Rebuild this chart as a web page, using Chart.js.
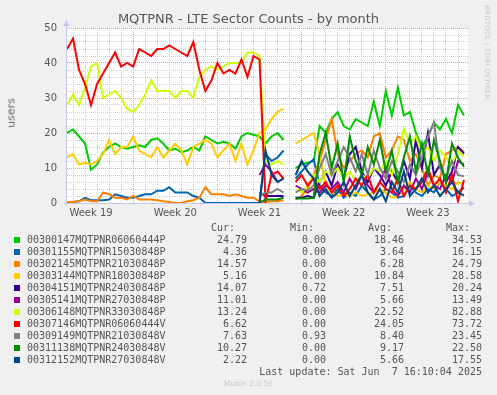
<!DOCTYPE html>
<html>
<head>
<meta charset="utf-8">
<script src="https://cdn.jsdelivr.net/npm/chart.js@4.4.1/dist/chart.umd.min.js"></script>
<style>
  html, body { margin: 0; padding: 0; background: #f0f0f0; }
  #wrap { position: relative; width: 497px; height: 395px; overflow: hidden; background: #f0f0f0; }
  #chart { position: absolute; left: 0; top: 0; }
  .txt { position: absolute; white-space: pre; color: #555; }
  #title { left: 0; width: 497px; top: 11px; text-align: center; font: 13px "DejaVu Sans"; line-height: 16px; }
  #ylab { left: 11px; top: 113px; font: 11px "DejaVu Sans"; color: #666; transform: translate(-50%, -50%) rotate(-90deg); transform-origin: center; }
  #rrd { left: 483px; top: 5px; font: 7px "DejaVu Sans"; color: #c8c8c8; writing-mode: vertical-rl; letter-spacing: 0.2px; }
  .mono { font: 10px "DejaVu Sans Mono"; line-height: 12px; }
  .sq { position: absolute; width: 6px; height: 6px; }
  #munin { left: 0; width: 497px; top: 379px; text-align: center; font: 7.5px "DejaVu Sans"; color: #c8c8c8; }
</style>
</head>
<body>
<div id="wrap">
  <canvas id="chart" width="497" height="225"></canvas>
  <div id="title" class="txt">MQTPNR - LTE Sector Counts - by month</div>
  <div id="ylab" class="txt">users</div>
  <div id="rrd" class="txt">RRDTOOL / TOBI OETIKER</div>
  <div id="legend"></div>
  <div id="munin" class="txt">Munin 2.0.56</div>
</div>
<script>
// one sample every half day, day 0 = left edge of the graph
const STEP = 0.5;
const LATE_START = 32; // index where the later sectors begin

const names = [
  '00300147MQTPNR06060444P', '00301155MQTPNR15030848P', '00302145MQTPNR21030848P',
  '00303144MQTPNR18030848P', '00304151MQTPNR24030848P', '00305141MQTPNR27030848P',
  '00306148MQTPNR33030848P', '00307146MQTPNR06060444V', '00309149MQTPNR21030848V',
  '00311138MQTPNR24030848V', '00312152MQTPNR27030848V'
];
const colors = ['#00cc00', '#0066b3', '#ff8000', '#ffcc00', '#330099', '#990099',
                '#ccff00', '#ff0000', '#808080', '#008f00', '#00487d'];

const curVals = ['24.79', '4.36', '14.57', '5.16', '14.07', '11.01', '13.24', '6.62', '7.63', '10.27', '2.22'];
const minVals = ['0.00', '0.00', '0.00', '0.00', '0.72', '0.00', '0.00', '0.00', '0.93', '0.00', '0.00'];
const avgVals = ['18.46', '3.64', '6.28', '10.84', '7.51', '5.66', '22.52', '24.05', '8.40', '9.17', '5.66'];
const maxVals = ['34.53', '16.15', '24.79', '28.58', '20.24', '13.49', '82.88', '73.72', '23.45', '22.50', '17.55'];

// full-period sectors (start at index 0)
const s00300147 = [20,21,19,17,9.5,11,14.5,16,17,16,15.5,16,16.5,16,18,18.5,17,15,15.5,14.5,15,16,15,19,18,17,17.5,17,15.5,19,20,
  19.5,19,17,19,20,18,null,
  10,11,11.5,12,22,20,24,26,22,21,24,23,22,29,22,32,25,33,25,26,20,16,19,23,21,24,20,28,25];
const s00301155 = [0.3,0.3,0.5,1.5,0.8,0.8,0.8,1,2.5,2,1.5,1.5,2,2.5,2.5,3.5,3.5,4.5,3,3,3,2,1.5,0,0,0,0,0,0,0,0,0,0,
  14,12,13,15,null,
  7,9,11,12.5,5,3,2,4,1.5,3,2,5,3,1,2,4,3,1.5,2,5,3,2,4,3,6,4,2,3,4.4];
const s00302145 = [0.3,0.3,0.5,1,0.5,0.5,3,2.5,1.5,1.5,1,2,1,1,1,0.8,0.5,0.3,0,0,0.5,0.8,1.5,4.5,2.5,2.5,2.5,2,2.5,2,1.5,1.5,0.5,
  0.3,0.5,0.5,0.8,null,
  1,2,4,8,12,18,24,14,10,12,14,15,13,19,20,13,15,19,18,12,14,10,5,8,7,14,15,16,14.6];
const s00303144 = [13,14,11,11.5,11,12,14,18,14,16,16,19,15,14,13,16,13,15,17,15,11,16,17,18,17,13,15,17,12,17,11,
  15,20,21,24,26,27,null,
  17,18,19,20,14,5,3,2,2.5,2,3,2,2.5,3,4,3,1.5,2,4,6,4,3,5,4,6,5,4,6,5.2];
const s00306148 = [28,31,28,33,39,40,30,31,32,30,27,26,28,31,35,32,32,32,30,32,32,30,36,38,39,38,39,40,40,40,43,
  43,42,12,11,12,11,null,
  4,3,5,8,6,9,8,10,7,9,6,8,7,10,9,12,8,14,21,17,19,14,16,12,15,13,11,15,13.2];
const s00307146 = [44,47,38,34,28,34,37,40,43,39,40,39,44,43,42,44,44,45,44,43,42,46,38,32,35,40,37,38,37,41,36,
  42,41,0.5,8,9,7,null,
  6,8,5,7,4,6,3,5,2,4,7,5,8,3,6,4,3,7,2,5,4,6,10,5,7,3,8,0.5,6.6];

// later sectors (start at LATE_START)
const s00304151 = [3,2,2,2,2,null,
  1.5,1.5,2,1.5,6,9,5,11,7,14,16,9,6,10,8,5,9,6,12,7,18,10,20,8,11,6,9,16,14.1];
const s00305141 = [8,11,9,6,7,null,
  5,4,3,4,3,5,4,6,3,7,4,8,5,3,6,10,4,2,5,3,7,4,9,5,4,8,6,12,11];
const s00309149 = [2,3,3,4,3,null,
  3,4,3.5,5,10,14,8,12,16,13,9,14,8,15,10,7,12,9,6,11,8,13,19,23,10,7,12,8,7.6];
const s00311138 = [0,1,1,1,1.5,null,
  1.3,1.3,1.3,1.5,14,20,10,17,6,19,12,8,16,11,18,9,15,6,13,19,9,17,8,18,12,6,17,13,10.3];
const s00312152 = [0,15,8,6,7,null,
  8,12,9,7,2,4,1.5,3,6,2,5,8,3,1,4,0.5,6,3,9,2,4,7,3,5,2,4,6,3,2.2];

const seriesValues = [s00300147, s00301155, s00302145, s00303144, s00304151, s00305141,
                      s00306148, s00307146, s00309149, s00311138, s00312152];
const seriesStart = [0, 0, 0, 0, LATE_START, LATE_START, 0, 0, LATE_START, LATE_START, LATE_START];

const X_MAX = 33.33;
const WEEK_FIRST = 19;

const datasets = seriesValues.map((vals, k) => ({
  label: names[k],
  data: vals.map((v, i) => ({ x: (seriesStart[k] + i) * STEP, y: v })),
  borderColor: colors[k],
  borderWidth: 2,
  pointRadius: 0,
  tension: 0,
  spanGaps: false,
  order: names.length - k  // later series on top, like rrdtool
}));

const plotBg = {
  id: 'plotBg',
  beforeDraw(chart) {
    const { ctx, chartArea: a } = chart;
    ctx.save();
    ctx.fillStyle = '#ffffff';
    ctx.fillRect(a.left, a.top, a.right - a.left, a.bottom - a.top);
    ctx.restore();
  },
  afterDraw(chart) {
    // axes with arrows
    const { ctx, chartArea: a } = chart;
    ctx.save();
    ctx.strokeStyle = '#c4c8ec';
    ctx.fillStyle = '#c4c8ec';
    ctx.lineWidth = 1;
    ctx.beginPath();
    ctx.moveTo(a.left - 0.5, a.bottom + 3);
    ctx.lineTo(a.left - 0.5, a.top - 3);
    ctx.moveTo(a.left - 3, a.bottom + 0.5);
    ctx.lineTo(a.right + 2, a.bottom + 0.5);
    ctx.stroke();
    ctx.beginPath();
    ctx.moveTo(a.left - 0.5, a.top - 8);
    ctx.lineTo(a.left - 3.5, a.top - 2);
    ctx.lineTo(a.left + 2.5, a.top - 2);
    ctx.fill();
    ctx.beginPath();
    ctx.moveTo(a.right + 7, a.bottom + 0.5);
    ctx.lineTo(a.right + 1, a.bottom - 2.5);
    ctx.lineTo(a.right + 1, a.bottom + 3.5);
    ctx.fill();
    ctx.restore();
  }
};

Chart.defaults.font.family = 'DejaVu Sans';
Chart.defaults.color = '#555';

new Chart(document.getElementById('chart').getContext('2d'), {
  type: 'line',
  data: { datasets },
  plugins: [plotBg],
  options: {
    responsive: false,
    animation: false,
    devicePixelRatio: 1,
    layout: { padding: { top: 28, right: 29, left: 0, bottom: 0 } },
    plugins: { legend: { display: false }, tooltip: { enabled: false }, title: { display: false } },
    scales: {
      x: {
        type: 'linear',
        min: 0,
        max: X_MAX,
        afterBuildTicks(scale) {
          const t = [];
          for (let v = 0; v <= X_MAX; v += 0.5) t.push({ value: v });
          scale.ticks = t;
        },
        afterFit(scale) { scale.height = 22; },
        ticks: {
          autoSkip: false,
          maxRotation: 0,
          padding: 4,
          font: { size: 10 },
          color: '#555',
          callback(v) {
            if (Number.isInteger(v) && (v - 2) % 7 === 0) return 'Week ' + (WEEK_FIRST + (v - 2) / 7);
            return '';
          }
        },
        grid: {
          drawTicks: false,
          color(ctx) {
            const v = ctx.tick ? ctx.tick.value : 0;
            if (Number.isInteger(v)) return 'rgba(0,0,0,0)';
            return ((v - 5.5) % 7 === 0) ? '#ee9a9a' : '#cfcfcf';
          }
        },
        border: { display: false, dash: [1, 1] }
      },
      y: {
        min: 0,
        max: 50,
        afterFit(scale) { scale.width = 67; },
        ticks: {
          stepSize: 2,
          autoSkip: false,
          padding: 10,
          font: { size: 10 },
          color: '#555',
          callback(v) { return v % 10 === 0 ? String(v) : ''; }
        },
        grid: {
          drawTicks: false,
          color(ctx) {
            const v = ctx.tick ? ctx.tick.value : 0;
            return v % 10 === 0 ? '#ee9a9a' : '#cfcfcf';
          }
        },
        border: { display: false, dash: [1, 1] }
      }
    }
  }
});

// legend table
const legend = document.getElementById('legend');
function addText(str, left, top, right) {
  const d = document.createElement('div');
  d.className = 'txt mono';
  d.textContent = str;
  d.style.top = top + 'px';
  if (right !== undefined) { d.style.right = (497 - right) + 'px'; d.style.textAlign = 'right'; }
  else d.style.left = left + 'px';
  legend.appendChild(d);
}
const colRight = [247, 326, 404, 482];
const headRight = [235, 314, 392, 470];
['Cur:', 'Min:', 'Avg:', 'Max:'].forEach((h, c) => addText(h, 0, 222, headRight[c]));
names.forEach((n, k) => {
  const yc = 240 + k * 12;
  const sq = document.createElement('div');
  sq.className = 'sq';
  sq.style.left = '14px';
  sq.style.top = (yc - 3) + 'px';
  sq.style.background = colors[k];
  legend.appendChild(sq);
  addText(n, 27, yc - 6);
  [curVals[k], minVals[k], avgVals[k], maxVals[k]].forEach((v, c) => addText(v, 0, yc - 6, colRight[c]));
});
addText('Last update: Sat Jun  7 16:10:04 2025', 0, 366, 482);
</script>
</body>
</html>
